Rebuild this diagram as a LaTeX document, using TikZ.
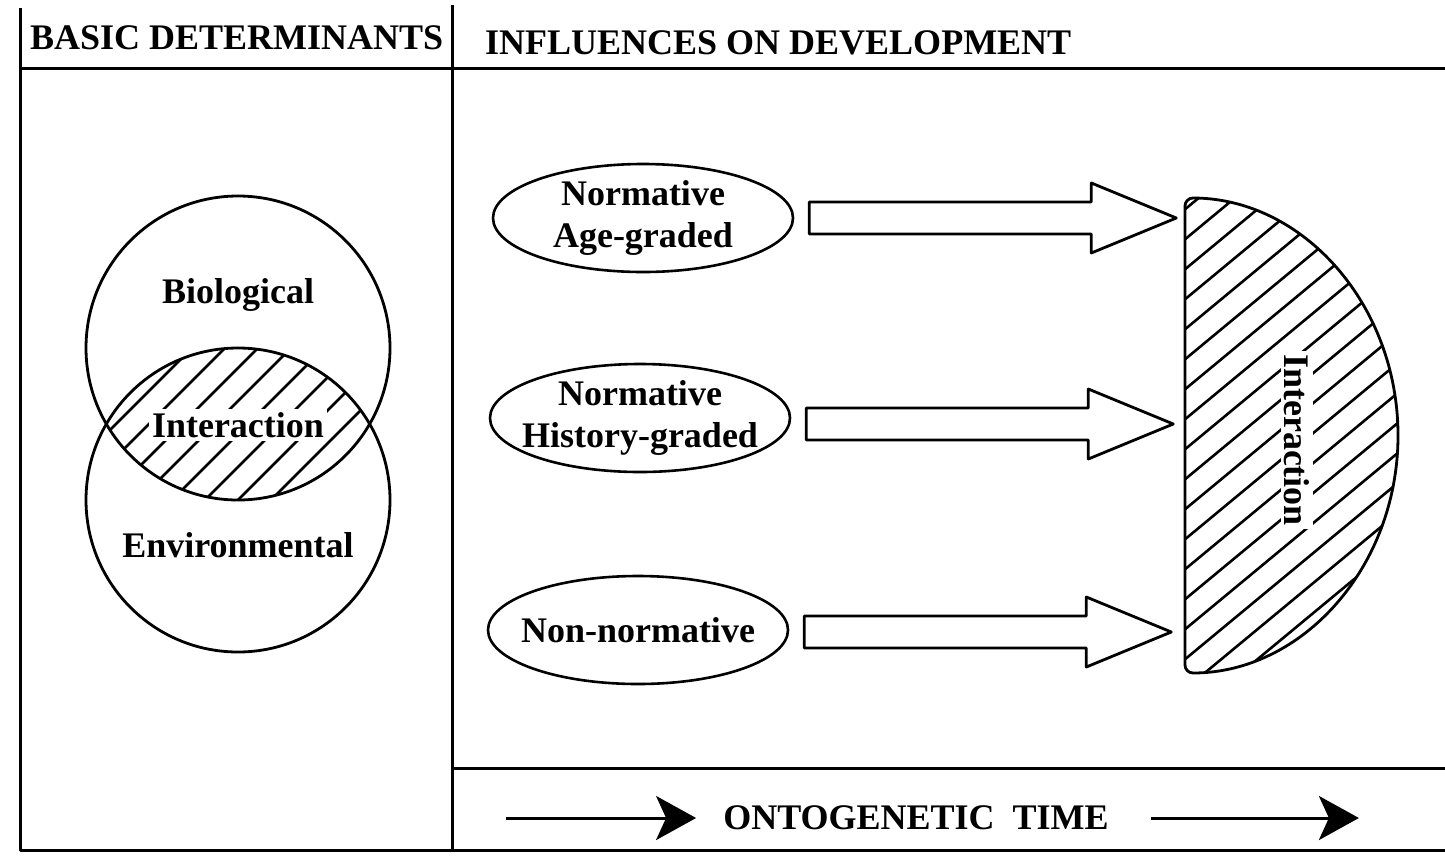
\documentclass[tikz,border=0pt]{standalone}
\usepackage{fontspec}
\setmainfont{Liberation Serif}
\usetikzlibrary{arrows.meta,calc,shapes.geometric}

\begin{document}
\begin{tikzpicture}[x=1pt, y=-1pt, line join=round,
  font=\fontsize{36}{42}\selectfont\bfseries,
  framerule/.style = {line width=3pt},
  venn/.style = {draw, circle, line width=2.8pt, minimum size=304pt, inner sep=0pt},
  infl/.style = {draw, ellipse, line width=2.6pt, minimum width=300pt, minimum height=108pt, inner sep=0pt},
  hollow/.style = {draw, line width=2.8pt},
  hatchline/.style = {line width=2.6pt},
  gap/.style = {fill=white, inner sep=3pt},
  timearrow/.style = {line width=3pt, -{Stealth[length=40pt, width=44pt, inset=10pt]}}]

\useasboundingbox (0,0) rectangle (1445,863);

% frame
\draw[framerule] (20,8) -- (20,850) -- (1445,850);
\draw[framerule] (20,68) -- (1445,68);
\draw[framerule] (452,5) -- (452,850);
\draw[framerule] (452,768) -- (1445,768);

\node[anchor=west, inner sep=0pt] (basic) at (30,38) {BASIC DETERMINANTS};
\node[anchor=west, inner sep=0pt] (influences) at (485,43) {INFLUENCES ON DEVELOPMENT};

% basic determinants
\begin{scope}
\clip (238,348) circle (152pt);
\clip (238,500) circle (152pt);
\foreach \k in {0,...,14} \draw[hatchline] (20+\k*33,520) -- ++(200,-200);
\end{scope}
\node (bio) at (238,295) {Biological};
\node[gap] (inter) at (238,425) {Interaction};
\node (env) at (238,545) {Environmental};
\node[venn] (biocirc) at (238,348) {};
\node[venn] (envcirc) at (238,500) {};

% influences
\node[infl, label={[align=center]center:Normative\\Age-graded}] (age) at (643,218) {};
\node[infl, label={[align=center]center:Normative\\History-graded}] (hist) at (640,418) {};
\node[infl, label={center:Non-normative}] (nonnorm) at (638,630) {};

\draw[hollow] (age.east) ++(15,-16) -- ++(282,0) -- ++(0,-19) -- ++(85,35) -- ++(-85,35) -- ++(0,-19) -- ++(-282,0) -- cycle;
\draw[hollow] (hist.east) ++(15,-10) -- ++(282,0) -- ++(0,-19) -- ++(85,35) -- ++(-85,35) -- ++(0,-19) -- ++(-282,0) -- cycle;
\draw[hollow] (nonnorm.east) ++(15,-14) -- ++(282,0) -- ++(0,-19) -- ++(85,35) -- ++(-85,35) -- ++(0,-19) -- ++(-282,0) -- cycle;

% interaction
\begin{scope}
\clip[rounded corners=8pt] (1185,435) -- (1185,673) arc[start angle=-90, end angle=90, x radius=213pt, y radius=237.5pt] -- cycle;
\foreach \k in {0,...,25} \draw[hatchline] (1160,920-\k*30) -- ++(280,-232);
\end{scope}
\draw[hollow, rounded corners=8pt] (1185,435) -- (1185,673) arc[start angle=-90, end angle=90, x radius=213pt, y radius=237.5pt] -- cycle;
\node[gap, rotate=-90] (interhd) at (1297,440) {Interaction};

% time
\node[inner sep=0pt] (ontime) at (916,818) {ONTOGENETIC\hspace{0.5em}TIME};
\draw[timearrow] ($(ontime.west)+(-217,0)$) -- ($(ontime.west)+(-27,0)$);
\draw[timearrow] ($(ontime.east)+(42,0)$) -- ($(ontime.east)+(250,0)$);

\end{tikzpicture}
\end{document}
